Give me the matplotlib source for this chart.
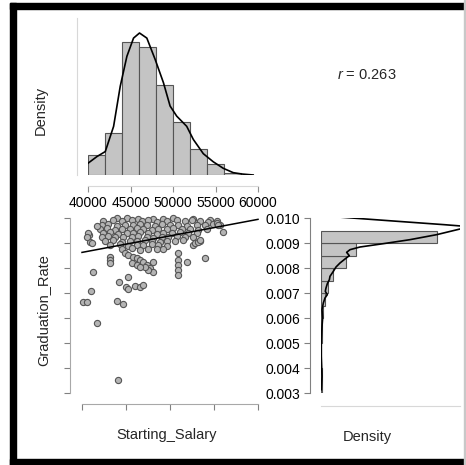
import matplotlib
matplotlib.use('Agg')
import matplotlib.pyplot as plt
import numpy as np
from matplotlib.patches import Rectangle

plt.rcParams.update({
    'font.family': ['Liberation Sans', 'DejaVu Sans'],
    'mathtext.fontset': 'custom',
    'mathtext.it': 'Liberation Sans:italic',
    'mathtext.rm': 'Liberation Sans',
})

# --- top histogram: Starting_Salary ---
salary_edges = [40000, 42000, 44000, 46000, 48000, 50000, 52000, 54000, 56000, 58000]
salary_hist = [1.98e-5, 4.19e-5, 13.1e-5, 12.6e-5, 8.9e-5, 5.2e-5, 2.6e-5, 1.1e-5, 0.23e-5]
salary_kde_x = [40000, 41056, 42033, 43011, 43793, 44575, 45357, 46060, 46921, 47898,
                48876, 49658, 50440, 51612, 52395, 53568, 54741, 55914, 57087, 58064, 59433]
salary_kde_y = [1.16e-5, 1.82e-5, 2.31e-5, 4.79e-5, 8.75e-5, 11.7e-5, 13.5e-5, 14.0e-5, 13.5e-5, 11.4e-5,
                9.1e-5, 6.8e-5, 5.8e-5, 4.8e-5, 3.5e-5, 2.1e-5, 1.3e-5, 0.66e-5, 0.23e-5, 0.1e-5, 0.0]
salary_ticks = [40000, 45000, 50000, 55000, 60000]

# --- right histogram: Graduation_Rate ---
rate_edges = [0.0030, 0.0035, 0.0040, 0.0045, 0.0050, 0.0055, 0.0060, 0.0065,
              0.0070, 0.0075, 0.0080, 0.0085, 0.0090, 0.0095]
rate_hist = [6.5, 6.5, 3.3, 3.3, 6.5, 9.8, 19.6, 39.2, 65.3, 120.7, 244.7, 342.6, 1132.3]
rate_kde_y = [0.01003, 0.009867, 0.009733, 0.009627, 0.00956, 0.009333, 0.009133, 0.008973,
              0.00884, 0.008733, 0.008627, 0.008493, 0.00836, 0.0082, 0.00804, 0.007867,
              0.007667, 0.007533, 0.007373, 0.0072, 0.007067, 0.006933, 0.0068, 0.0066,
              0.006333, 0.006, 0.005667, 0.005133, 0.004467, 0.003667, 0.003133]
rate_kde_x = [202, 750, 1207, 1534, 1361, 1132, 871, 610, 382, 284, 251, 277, 235, 186,
              147, 121, 88, 82, 62, 49, 42, 62, 39, 23, 10, 16, 10, 3, 3, 10, 3]
rate_ticks = [0.003, 0.004, 0.005, 0.006, 0.007, 0.008, 0.009, 0.010]
rate_labels = ['0.003', '0.004', '0.005', '0.006', '0.007', '0.008', '0.009', '0.010']

# --- scatter ---
salary = [
    # top row
    43940, 45080, 46400, 48110, 49240, 50380, 52650, 54550,
    42420, 43560, 44510, 45640, 46780, 47540, 48490, 49620, 50760, 51700, 52460, 53410, 54360, 55300,
    42240, 42990, 43940, 44890, 45830, 46590, 47350, 48300, 49050, 50000, 50950, 51890, 53030, 53980, 54920, 55680,
    42050, 42800, 43750, 44510, 45450, 46210, 46970, 47920, 48670, 49620, 50380, 51330, 52270, 53220, 54170,
    42420, 43180, 44130, 45080, 45830, 46590, 47540, 48490, 49240, 50190, 51140, 52080, 53030,
    42240, 42990, 43750, 44700, 45640, 46400, 47350, 48110, 49050, 49810, 50760, 51700, 52650,
    42610, 43560, 44510, 45450, 46210, 47160, 47920, 48860, 49620, 50570, 51520, 53410,
    43180, 44320, 45270, 46210, 46970, 47920, 48670, 49620, 52650,
    44510, 45640, 46590, 47540, 48490, 49240,
    # descending cluster
    44890, 45270, 45830, 46210, 46590, 46970, 47350, 47730, 48110, 47540, 47160, 48110, 45640, 46210, 46590,
    # left group
    40830, 40720, 40910, 41100, 40610, 41670,
    # right group
    56020, 52840, 53180, 53410, 50910, 50910, 50910, 50910, 50910, 51930, 53980, 55300, 55490,
    # low outliers
    44125, 41670, 40080, 40600, 43940, 44620, 40990, 41290, 44200, 45190, 45000, 45260,
    46020, 46590, 46900, 43180, 43180, 43180,
]
grad_rate = [
    0.00999, 0.01000, 0.00996, 0.00998, 0.00995, 0.00999, 0.00997, 0.00994,
    0.00988, 0.00991, 0.00986, 0.00990, 0.00987, 0.00992, 0.00985, 0.00989, 0.00991, 0.00986, 0.00990, 0.00988, 0.00984, 0.00987,
    0.00972, 0.00975, 0.00970, 0.00974, 0.00971, 0.00976, 0.00973, 0.00969, 0.00975, 0.00972, 0.00974, 0.00970, 0.00973, 0.00971, 0.00975, 0.00972,
    0.00956, 0.00959, 0.00954, 0.00958, 0.00955, 0.00960, 0.00957, 0.00953, 0.00958, 0.00956, 0.00959, 0.00955, 0.00957, 0.00954, 0.00958,
    0.00940, 0.00943, 0.00938, 0.00942, 0.00939, 0.00944, 0.00941, 0.00937, 0.00942, 0.00940, 0.00943, 0.00939, 0.00941,
    0.00924, 0.00927, 0.00922, 0.00926, 0.00923, 0.00928, 0.00925, 0.00921, 0.00926, 0.00924, 0.00927, 0.00923, 0.00925,
    0.00908, 0.00911, 0.00906, 0.00910, 0.00907, 0.00912, 0.00909, 0.00905, 0.00910, 0.00908, 0.00911, 0.00907,
    0.00892, 0.00895, 0.00890, 0.00894, 0.00891, 0.00896, 0.00893, 0.00889, 0.00892,
    0.00876, 0.00879, 0.00874, 0.00878, 0.00875, 0.00877,
    0.008589, 0.008522, 0.008455, 0.008389, 0.008322, 0.008256, 0.008123, 0.007989, 0.007856, 0.007922, 0.008056, 0.008256, 0.008189, 0.008123, 0.008056,
    0.009321, 0.009387, 0.009055, 0.008988, 0.009228, 0.009680,
    0.00944, 0.00900, 0.00904, 0.00912, 0.00860, 0.00832, 0.00812, 0.00792, 0.00772, 0.00824, 0.00840, 0.00979, 0.00972,
    0.00353, 0.00582, 0.00666, 0.00666, 0.00670, 0.00655, 0.00710, 0.00786, 0.00746, 0.00766, 0.00723, 0.00718,
    0.00728, 0.00723, 0.00732, 0.00845, 0.00832, 0.00819,
]
fit_intercept = 0.00598
fit_slope = 6.61e-8
r_value = 0.263

W, H = 466, 465
fig = plt.figure(figsize=(W / 100, H / 100), dpi=100)


def px_rect(l, t, r, b):
    return [l / W, 1 - b / H, (r - l) / W, (b - t) / H]


spine_col = '#a8a8a8'
txt_col = '#262626'
bar_face = '#c4c4c4'
bar_edge = '#555555'

# frame
fig.patches.append(Rectangle((10 / W, 0), 6 / W, 1 - 3 / H, transform=fig.transFigure,
                             color='black', zorder=10))
fig.patches.append(Rectangle((10 / W, 1 - 9 / H), 1 - 10 / W, 6 / H, transform=fig.transFigure,
                             color='black', zorder=10))
fig.patches.append(Rectangle((10 / W, 0), 1 - 10 / W, 6 / H, transform=fig.transFigure,
                             color='black', zorder=10))
fig.patches.append(Rectangle((464 / W, 0), 1.5 / W, 1, transform=fig.transFigure,
                             color='#c8c8c8', zorder=10))

# top histogram
ax1 = fig.add_axes(px_rect(88, 18, 258, 175))
ax1.bar(salary_edges[:-1], salary_hist, width=np.diff(salary_edges), align='edge',
        color=bar_face, edgecolor=bar_edge, linewidth=0.8)
ax1.plot(salary_kde_x, salary_kde_y, color='black', lw=1.2)
ax1.set_xlim(40000, 60000)
ax1.set_ylim(0, 15.48e-5)
ax1.set_xticks(salary_ticks)
ax1.set_xticklabels([str(t) for t in salary_ticks], fontsize=10, color=txt_col)
ax1.set_yticks([])
for s in ['top', 'right']:
    ax1.spines[s].set_visible(False)
ax1.spines['left'].set_position(('outward', 8))
ax1.spines['bottom'].set_position(('outward', 8))
for s in ['left', 'bottom']:
    ax1.spines[s].set_color('#d8d8d8')
    ax1.spines[s].set_linewidth(0.8)
ax1.tick_params(axis='x', color='#909090', length=4, width=0.8, pad=3)

# scatter
ax2 = fig.add_axes(px_rect(82, 218, 258, 393))
ax2.scatter(salary, grad_rate, s=20, facecolor='#b4b4b4', edgecolor='#555555',
            linewidth=0.8, clip_on=False, zorder=3)
xl = np.array([40000, 60000])
ax2.plot(xl, fit_intercept + fit_slope * xl, color='black', lw=1.1, zorder=4, clip_on=False)
ax2.set_xlim(40000, 60000)
ax2.set_ylim(0.003, 0.010)
ax2.set_xticks(salary_ticks)
ax2.set_yticks(rate_ticks)
ax2.set_xticklabels([])
ax2.set_yticklabels([])
for s in ['top', 'right']:
    ax2.spines[s].set_visible(False)
ax2.spines['left'].set_position(('outward', 9))
ax2.spines['bottom'].set_position(('outward', 8))
for s in ['left', 'bottom']:
    ax2.spines[s].set_color(spine_col)
    ax2.spines[s].set_linewidth(0.8)
ax2.tick_params(color='#808080', length=4, width=0.8)

# right histogram
ax3 = fig.add_axes(px_rect(321, 218, 460, 393))
ax3.barh(rate_edges[:-1], rate_hist, height=np.diff(rate_edges), align='edge',
         color=bar_face, edgecolor=bar_edge, linewidth=0.8)
ax3.plot(rate_kde_x, rate_kde_y, color='black', lw=1.2)
ax3.set_xlim(0, 1361)
ax3.set_ylim(0.003, 0.010)
ax3.set_yticks(rate_ticks)
ax3.set_yticklabels(rate_labels, fontsize=10, color=txt_col)
ax3.set_xticks([])
for s in ['top', 'right']:
    ax3.spines[s].set_visible(False)
ax3.spines['left'].set_position(('outward', 8))
ax3.spines['bottom'].set_position(('outward', 9))
ax3.spines['left'].set_color('#808080')
ax3.spines['bottom'].set_color('#d8d8d8')
for s in ['left', 'bottom']:
    ax3.spines[s].set_linewidth(0.8)
ax3.tick_params(axis='y', color='#808080', length=4, width=0.8, pad=3)

# labels
fig.text(41 / W, 1 - 110 / H, 'Density', rotation=90, ha='center', va='center',
         fontsize=10.5, color=txt_col)
fig.text(43 / W, 1 - 310 / H, 'Graduation_Rate', rotation=90, ha='center', va='center',
         fontsize=10.5, color=txt_col)
fig.text(167 / W, 1 - 435 / H, 'Starting_Salary', ha='center', va='center',
         fontsize=10.5, color=txt_col)
fig.text(367 / W, 1 - 437 / H, 'Density', ha='center', va='center',
         fontsize=10.5, color=txt_col)
fig.text(367 / W, 1 - 75 / H, r'$\it{r}$ = %.3f' % r_value, ha='center', va='center',
         fontsize=10.5, color=txt_col)

fig.savefig('out.png', dpi=100)
